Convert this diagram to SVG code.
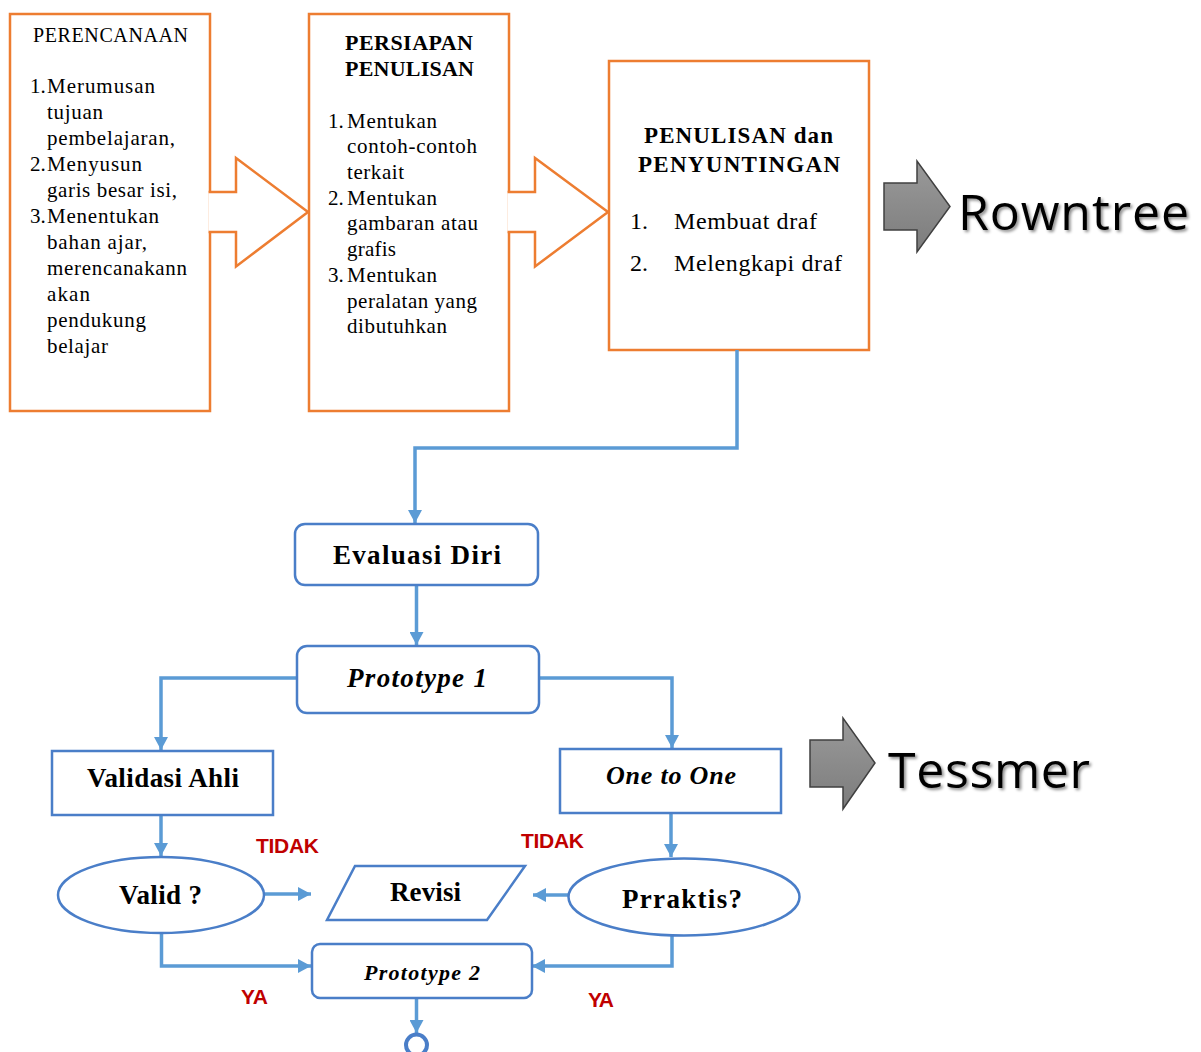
<svg xmlns="http://www.w3.org/2000/svg" width="1201" height="1052" viewBox="0 0 1201 1052">
<style>
.ob{fill:#fff;stroke:#ED7D31;stroke-width:2.5}
.oa{fill:#fff;stroke:#ED7D31;stroke-width:2.5;stroke-linejoin:miter}
.bb{fill:#fff;stroke:#4A7EC8;stroke-width:2.5}
.cn{fill:none;stroke:#5B9BD5;stroke-width:3.5}
.t{font-family:"Liberation Serif","Times New Roman",serif;fill:#000}
.l{font-size:21px}
.h{font-size:22px;font-weight:bold}
.fb{font-size:27px;font-weight:bold}
.fi{font-style:italic;font-weight:bold}
.red{font-family:"Liberation Sans",Arial,sans-serif;font-weight:bold;fill:#C00000;font-size:21px}
.big{font-family:"Open Sans","Liberation Sans",sans-serif;fill:#000;font-size:50px}
.ga{fill:url(#gg);stroke:#404040;stroke-width:1.5}
</style>
<defs>
<marker id="ah" markerUnits="userSpaceOnUse" markerWidth="14" markerHeight="14" refX="13" refY="7" orient="auto">
<path d="M0,0 L13,7 L0,14 z" fill="#5B9BD5"/>
</marker>
<linearGradient id="gg" x1="0" y1="0" x2="0" y2="1">
<stop offset="0" stop-color="#9a9a9a"/>
<stop offset="1" stop-color="#7c7c7c"/>
</linearGradient>
<filter id="sh" x="-10%" y="-10%" width="130%" height="140%">
<feDropShadow dx="2" dy="2" stdDeviation="1.5" flood-color="#000" flood-opacity="0.45"/>
</filter>
</defs>

<g id="perencanaan">
<rect class="ob" x="10" y="14" width="200" height="397"/>
<text class="t" font-size="20" x="33" y="41.5" textLength="155">PERENCANAAN</text>
<text class="t l" x="30" y="93">1.</text>
<text class="t l" x="47" y="93" textLength="108">Merumusan</text>
<text class="t l" x="47" y="119" textLength="56">tujuan</text>
<text class="t l" x="47" y="145" textLength="128">pembelajaran,</text>
<text class="t l" x="30" y="171">2.</text>
<text class="t l" x="47" y="171" textLength="95">Menyusun</text>
<text class="t l" x="47" y="197" textLength="130">garis besar isi,</text>
<text class="t l" x="30" y="222.5">3.</text>
<text class="t l" x="47" y="222.5" textLength="112">Menentukan</text>
<text class="t l" x="47" y="248.5" textLength="100">bahan ajar,</text>
<text class="t l" x="47" y="274.5" textLength="140">merencanakann</text>
<text class="t l" x="47" y="300.5" textLength="43">akan</text>
<text class="t l" x="47" y="326.5" textLength="99">pendukung</text>
<text class="t l" x="47" y="352.5" textLength="61">belajar</text>
</g>

<g id="arrow-1">
<path class="oa" d="M208.6,192 H236 V158 L308,212 L236,266.5 V232 H208.6"/>
</g>

<g id="persiapan">
<rect class="ob" x="309" y="14" width="200" height="397"/>
<text class="t h" x="345" y="50" textLength="128">PERSIAPAN</text>
<text class="t h" x="345" y="76" textLength="129">PENULISAN</text>
<text class="t l" x="328" y="127.5">1.</text>
<text class="t l" x="347" y="127.5" textLength="90">Mentukan</text>
<text class="t l" x="347" y="153" textLength="130">contoh-contoh</text>
<text class="t l" x="347" y="178.5" textLength="57">terkait</text>
<text class="t l" x="328" y="204.5">2.</text>
<text class="t l" x="347" y="204.5" textLength="90">Mentukan</text>
<text class="t l" x="347" y="230" textLength="131">gambaran atau</text>
<text class="t l" x="347" y="255.5" textLength="49">grafis</text>
<text class="t l" x="328" y="281.5">3.</text>
<text class="t l" x="347" y="281.5" textLength="90">Mentukan</text>
<text class="t l" x="347" y="307.5" textLength="130">peralatan yang</text>
<text class="t l" x="347" y="333" textLength="100">dibutuhkan</text>
</g>

<g id="arrow-2">
<path class="oa" d="M507.6,192 H535 V158 L608,212 L535,266.5 V232 H507.6"/>
</g>

<g id="penulisan">
<rect class="ob" x="609" y="61" width="260" height="289"/>
<text class="t" font-size="23" font-weight="bold" x="644" y="142.5" textLength="189">PENULISAN dan</text>
<text class="t" font-size="23" font-weight="bold" x="638" y="171.5" textLength="202">PENYUNTINGAN</text>
<text class="t" font-size="24" x="630" y="229">1.</text>
<text class="t" font-size="24" x="674" y="229" textLength="143">Membuat draf</text>
<text class="t" font-size="24" x="630" y="271">2.</text>
<text class="t" font-size="24" x="674" y="271" textLength="168">Melengkapi draf</text>
</g>

<g id="rowntree">
<path class="ga" d="M884,183 H917 V161 L950,206.5 L917,252 V230 H884 Z"/>
<text class="big" x="958" y="230" textLength="231" filter="url(#sh)">Rowntree</text>
</g>

<g id="tessmer">
<path class="ga" d="M810,740 H843 V718 L875,763 L843,809 V787 H810 Z"/>
<text class="big" x="888" y="788" textLength="202" filter="url(#sh)">Tessmer</text>
</g>

<g id="connectors">
<path class="cn" d="M737,350 V448 H415 V523" marker-end="url(#ah)"/>
<path class="cn" d="M416.5,585 V645" marker-end="url(#ah)"/>
<path class="cn" d="M297,678 H161 V750" marker-end="url(#ah)"/>
<path class="cn" d="M539,678 H672 V748" marker-end="url(#ah)"/>
<path class="cn" d="M161,815 V856" marker-end="url(#ah)"/>
<path class="cn" d="M264,894 H311" marker-end="url(#ah)"/>
<path class="cn" d="M671,814 V857" marker-end="url(#ah)"/>
<path class="cn" d="M568,895 H533" marker-end="url(#ah)"/>
<path class="cn" d="M161.5,933 V966 H311" marker-end="url(#ah)"/>
<path class="cn" d="M672,936 V966 H532" marker-end="url(#ah)"/>
<path class="cn" d="M416.5,998 V1033" marker-end="url(#ah)"/>
</g>

<g id="evaluasi-diri">
<rect class="bb" x="295" y="524" width="243" height="61" rx="10"/>
<text class="t fb" x="333" y="564" textLength="168">Evaluasi Diri</text>
</g>

<g id="prototype-1">
<rect class="bb" x="297" y="646" width="242" height="67" rx="10"/>
<text class="t fi" font-size="27" x="347" y="687" textLength="140">Prototype 1</text>
</g>

<g id="validasi-ahli">
<rect class="bb" x="52" y="751" width="221" height="64"/>
<text class="t fb" x="87" y="787" textLength="152">Validasi Ahli</text>
</g>

<g id="one-to-one">
<rect class="bb" x="560" y="749" width="221" height="64"/>
<text class="t fi" font-size="26" x="606" y="784" textLength="130">One to One</text>
</g>

<g id="valid">
<ellipse class="bb" cx="161" cy="895" rx="103" ry="38"/>
<text class="t fb" x="119" y="904" textLength="83">Valid ?</text>
</g>

<g id="revisi">
<path class="bb" d="M355,866 H525 L487,920 H327 Z"/>
<text class="t fb" x="390" y="900.5" textLength="71">Revisi</text>
</g>

<g id="prraktis">
<ellipse class="bb" cx="684" cy="897" rx="115.5" ry="38.5"/>
<text class="t fb" x="622" y="908" textLength="120">Prraktis?</text>
</g>

<g id="prototype-2">
<rect class="bb" x="312" y="944" width="220" height="54" rx="8"/>
<text class="t fi" font-size="22" x="364" y="980" textLength="116">Prototype 2</text>
</g>

<g id="connector-circle">
<circle cx="416.5" cy="1045" r="10.5" fill="#fff" stroke="#4A7EC8" stroke-width="4"/>
</g>

<g id="labels">
<text class="red" x="256" y="853" textLength="63">TIDAK</text>
<text class="red" x="521" y="848" textLength="63">TIDAK</text>
<text class="red" x="241" y="1004" textLength="27">YA</text>
<text class="red" x="588" y="1006.5" textLength="26">YA</text>
</g>
</svg>
